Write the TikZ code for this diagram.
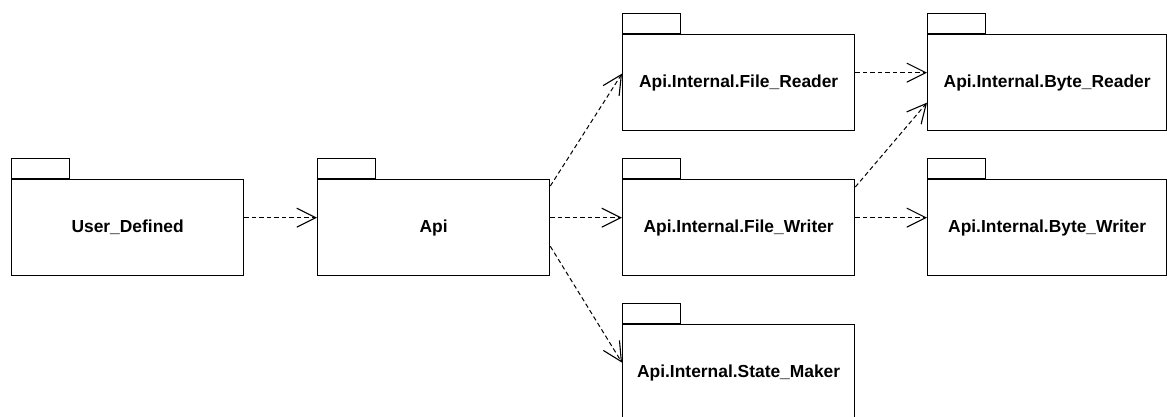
\documentclass[tikz,border=0pt]{standalone}
\usepackage{fontspec}
\setmainfont{Liberation Sans}
\usetikzlibrary{arrows.meta}
\begin{document}
\begin{tikzpicture}[x=1pt,y=-1pt,
  pkgbody/.style={draw, line width=1.3pt, minimum width=232pt, minimum height=96pt,
    inner sep=0pt, anchor=north west, font=\fontsize{17.4}{20}\selectfont\bfseries},
  widebody/.style={pkgbody, minimum width=239pt},
  pkgtab/.style={draw, line width=1.3pt, minimum width=58pt, minimum height=20pt,
    inner sep=0pt, anchor=south west},
  dep/.style={line width=1pt, dash pattern=on 4.5pt off 3pt,
    -{Straight Barb[length=19pt,width=19pt,line width=1.1pt]}}]
\useasboundingbox (0,0) rectangle (1167,417);
% packages
\node[pkgbody] (ud) at (11,179) {User\_Defined};
\node[pkgtab] (udtab) at (ud.north west) {};
\node[pkgbody] (api) at (317,179) {Api};
\node[pkgtab] (apitab) at (api.north west) {};
\node[pkgbody] (fr) at (622,34) {Api.Internal.File\_Reader};
\node[pkgtab] (frtab) at (fr.north west) {};
\node[pkgbody] (fw) at (622,179) {Api.Internal.File\_Writer};
\node[pkgtab] (fwtab) at (fw.north west) {};
\node[pkgbody] (sm) at (622,324) {Api.Internal.State\_Maker};
\node[pkgtab] (smtab) at (sm.north west) {};
\node[widebody] (br) at (927,34) {Api.Internal.Byte\_Reader};
\node[pkgtab] (brtab) at (br.north west) {};
\node[widebody] (bw) at (927,179) {Api.Internal.Byte\_Writer};
\node[pkgtab] (bwtab) at (bw.north west) {};
% dependencies
\draw[dep] ([yshift=10pt]ud.east) -- ([yshift=10pt]api.west);
\draw[dep] ([yshift=-7pt]api.north east) -- ([yshift=9pt]fr.west);
\draw[dep] ([yshift=10pt]api.east) -- ([yshift=10pt]fw.west);
\draw[dep] ([yshift=30pt]api.south east) -- ([yshift=10pt]sm.west);
\draw[dep] ([yshift=10pt]fr.east) -- ([yshift=10pt]br.west);
\draw[dep] ([yshift=-8pt]fw.north east) -- ([yshift=-20pt]br.west);
\draw[dep] ([yshift=10pt]fw.east) -- ([yshift=10pt]bw.west);
\end{tikzpicture}
\end{document}
